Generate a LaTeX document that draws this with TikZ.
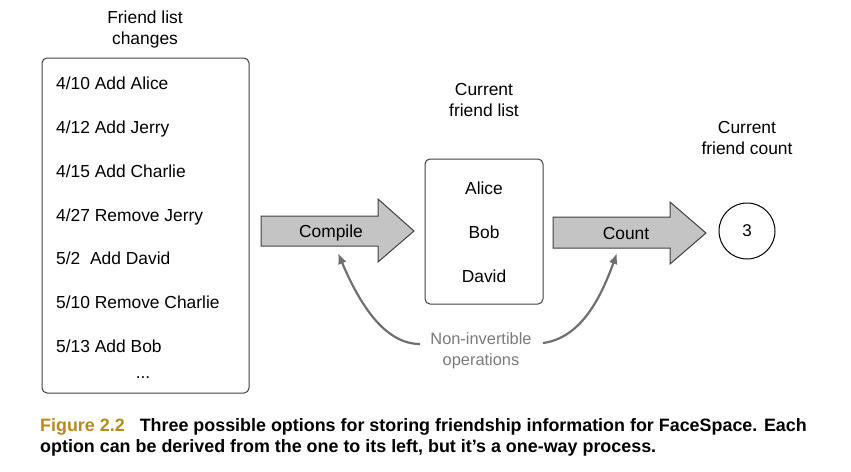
\documentclass[tikz,border=0pt]{standalone}
\usepackage{fontspec}
\setmainfont{Liberation Sans}
\usetikzlibrary{arrows.meta}
\definecolor{fillg}{HTML}{C4C4C4}
\definecolor{edgeg}{HTML}{404040}
\definecolor{curveg}{HTML}{6E7070}
\definecolor{labelg}{HTML}{7A7A7A}
\definecolor{figgold}{HTML}{B8891E}
\tikzset{
  lbl/.style={font=\fontsize{17.4}{20}\selectfont, inner sep=0pt},
  item/.style={lbl, anchor=base west},
  citem/.style={lbl, anchor=base},
  ttl/.style={font=\fontsize{17.4}{21}\selectfont, align=center, inner sep=0pt},
  listbox/.style={draw=edgeg, line width=1pt, rounded corners=5pt},
  bigarrow/.style={draw=edgeg, line width=1pt, fill=fillg},
  curvearrow/.style={draw=curveg, line width=2.2pt, -{Latex[length=11pt,width=9pt]}},
  captxt/.style={font=\bfseries\fontsize{17.9}{21}\selectfont, inner sep=0pt, anchor=base west},
}
\begin{document}
\begin{tikzpicture}[x=1pt,y=-1pt]
\useasboundingbox (0,0) rectangle (851,471);
% titles
\node[ttl] (t1) at (145,30) {Friend list\\changes};
\node[ttl] (t2) at (484,100) {Current\\friend list};
\node[ttl] (t3) at (747,138) {Current\\friend count};
% left box
\draw[listbox] (42,58) rectangle (249,393);
\node[item] (c1) at (56,89) {4/10 Add Alice};
\node[item] (c2) at (56,133) {4/12 Add Jerry};
\node[item] (c3) at (56,177) {4/15 Add Charlie};
\node[item] (c4) at (56,221) {4/27 Remove Jerry};
\node[item] (c5) at (56,264) {5/2\ \ Add David};
\node[item] (c6) at (56,308) {5/10 Remove Charlie};
\node[item] (c7) at (56,352) {5/13 Add Bob};
\node[citem] (c8) at (143,378) {...};
% compile arrow
\draw[bigarrow] (261,216) -- (378,216) -- (378,199) -- (414,231) -- (378,262) -- (378,246) -- (261,246) -- cycle;
\node[citem] (compile) at (331,237) {Compile};
% middle box
\draw[listbox] (425,159) rectangle (543,304);
\node[citem] (f1) at (484,194) {Alice};
\node[citem] (f2) at (484,238) {Bob};
\node[citem] (f3) at (484,282) {David};
% count arrow
\draw[bigarrow] (553,217) -- (670,217) -- (670,202) -- (706,233) -- (670,264) -- (670,248) -- (553,248) -- cycle;
\node[citem] (count) at (626,239) {Count};
% circle
\node[draw=black, line width=1pt, circle, minimum size=56pt, inner sep=0pt, font=\fontsize{17}{19}\selectfont] (n3) at (747,231) {3};
% non-invertible label
\node[font=\fontsize{16.4}{21}\selectfont, text=labelg, align=center, inner sep=0pt] (noninv) at (481,351) {Non-invertible\\operations};
\coordinate (ls) at (420,344);
\coordinate (le) at (338,253);
\coordinate (rs) at (543,343);
\coordinate (re) at (617,253);
\draw[curvearrow] (ls) .. controls (385,344) and (360,305) .. (le);
\draw[curvearrow] (rs) .. controls (580,338) and (600,300) .. (re);
% caption
\node[captxt] (cap1) at (40,431) {\textcolor{figgold}{Figure 2.2}\hspace{15pt}Three possible options for storing friendship information for FaceSpace. Each};
\node[captxt] (cap2) at (40,452) {option can be derived from the one to its left, but it’s a one-way process.};
\end{tikzpicture}
\end{document}
